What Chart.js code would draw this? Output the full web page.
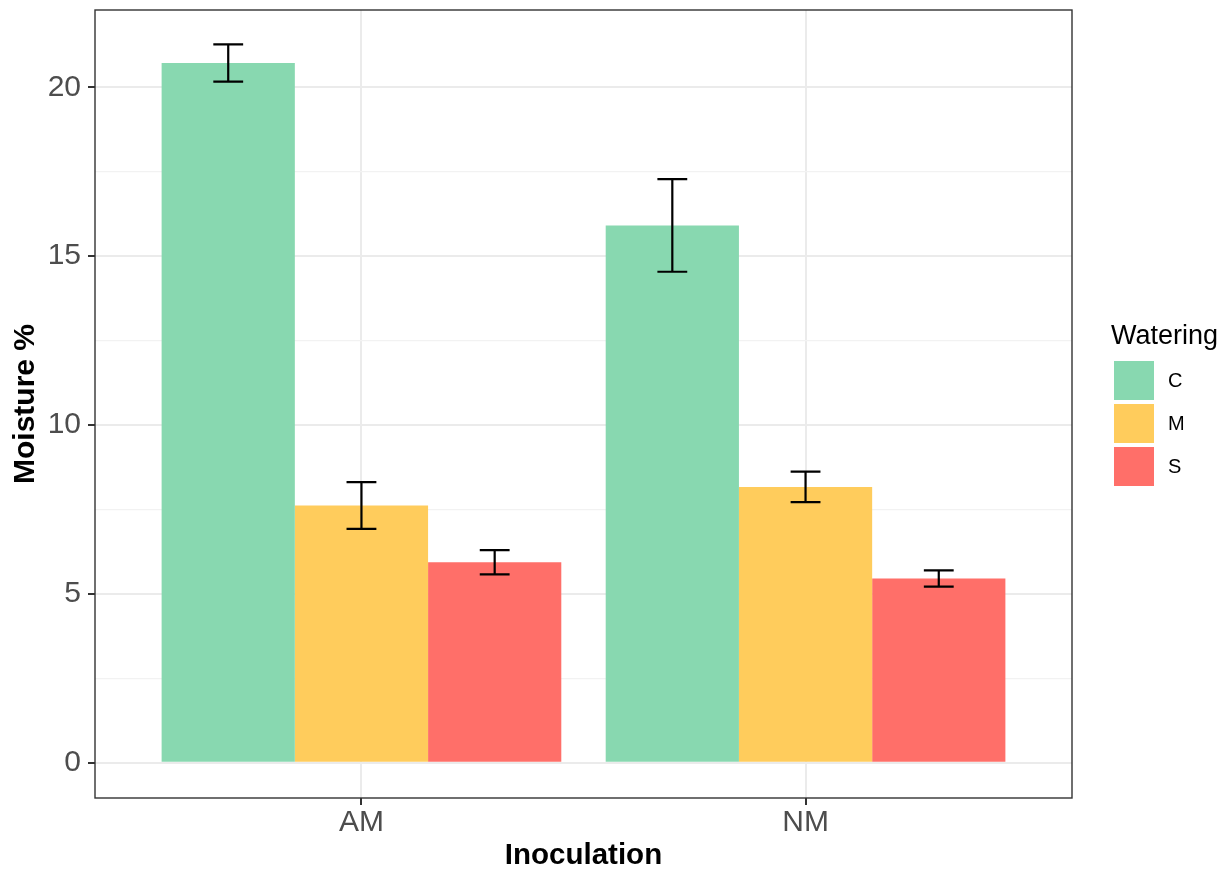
<!DOCTYPE html>
<html>
<head>
<meta charset="utf-8">
<script src="https://cdn.jsdelivr.net/npm/chart.js@4.4.1/dist/chart.umd.min.js"></script>
<style>
  html, body { margin: 0; padding: 0; background: #fff; }
  #wrap { position: relative; width: 1232px; height: 878px; }
  #legend { position: absolute; left: 0; top: 0; font-family: "Liberation Sans", Arial, sans-serif; color: #000; }
  #legend .ltitle { position: absolute; left: 1111px; top: 320px; font-size: 27px; line-height: 30px; white-space: nowrap; }
  #legend .key { position: absolute; left: 1114px; width: 40px; height: 39px; }
  #legend .lab { position: absolute; left: 1168px; font-size: 20px; line-height: 39px; }
</style>
</head>
<body>
<div id="wrap">
  <canvas id="chart" width="1232" height="878"></canvas>
  <div id="legend"></div>
</div>
<script>
// moisture data
var categories = ['AM', 'NM'];
var watering = ['C', 'M', 'S'];
var cMeans = [20.72, 15.91];
var mMeans = [7.62, 8.17];
var sMeans = [5.94, 5.46];
var cSe = [0.55, 1.37];
var mSe = [0.69, 0.45];
var sSe = [0.36, 0.24];
var colors = ['#88D8B0', '#FFCC5C', '#FF6F69'];
var yTicks = [0, 5, 10, 15, 20];
var yMinorTicks = [2.5, 7.5, 12.5, 17.5];

var fontFamily = '"Liberation Sans", Arial, sans-serif';

function toPoints(values) {
    return values.map(function(v, i) { return { x: i + 1, y: v }; });
}

var means = [cMeans, mMeans, sMeans];
var errors = [cSe, mSe, sSe];

var datasets = watering.map(function(name, i) {
    return {
        label: name,
        data: toPoints(means[i]),
        errors: errors[i],
        backgroundColor: colors[i],
        borderWidth: 0
    };
});

function isMajor(v) {
    return yTicks.indexOf(v) !== -1;
}

// error bars on top of the bars
var errorBars = {
    id: 'errorBars',
    afterDatasetsDraw: function(chart) {
        var ctx = chart.ctx;
        var y = chart.scales.y;
        ctx.save();
        ctx.strokeStyle = '#000';
        ctx.lineWidth = 2.2;
        chart.data.datasets.forEach(function(ds, i) {
            var meta = chart.getDatasetMeta(i);
            meta.data.forEach(function(bar, j) {
                var m = ds.data[j].y;
                var e = ds.errors[j];
                var top = y.getPixelForValue(m + e);
                var bot = y.getPixelForValue(m - e);
                var half = bar.width * 0.112;
                ctx.beginPath();
                ctx.moveTo(bar.x, top);
                ctx.lineTo(bar.x, bot);
                ctx.moveTo(bar.x - half, top);
                ctx.lineTo(bar.x + half, top);
                ctx.moveTo(bar.x - half, bot);
                ctx.lineTo(bar.x + half, bot);
                ctx.stroke();
            });
        });
        ctx.restore();
    }
};

// panel border like theme_bw
var panelBorder = {
    id: 'panelBorder',
    afterDraw: function(chart) {
        var a = chart.chartArea;
        var ctx = chart.ctx;
        ctx.save();
        ctx.strokeStyle = '#333333';
        ctx.lineWidth = 1.4;
        ctx.strokeRect(a.left, a.top, a.right - a.left, a.bottom - a.top);
        ctx.restore();
    }
};

var ctx = document.getElementById('chart').getContext('2d');
var chart = new Chart(ctx, {
    type: 'bar',
    data: { datasets: datasets },
    options: {
        responsive: false,
        animation: false,
        devicePixelRatio: 1,
        layout: { padding: { top: 10, right: 160, left: 0, bottom: 0 } },
        datasets: { bar: { categoryPercentage: 0.9, barPercentage: 1.0 } },
        plugins: { legend: { display: false }, tooltip: { enabled: false } },
        scales: {
            x: {
                type: 'linear',
                min: 0.4,
                max: 2.6,
                offset: false,
                afterBuildTicks: function(s) {
                    s.ticks = categories.map(function(c, i) { return { value: i + 1 }; });
                },
                afterFit: function(s) { s.height = 80; },
                border: { display: false },
                grid: { offset: false, color: '#EBEBEB', lineWidth: 2, tickLength: 7, tickColor: '#333333', tickWidth: 2 },
                ticks: {
                    autoSkip: false,
                    maxRotation: 0,
                    padding: 0,
                    color: '#4D4D4D',
                    font: { family: fontFamily, size: 30 },
                    callback: function(v) { return categories[v - 1]; }
                },
                title: {
                    display: true,
                    text: 'Inoculation',
                    color: '#000',
                    padding: { top: 0, bottom: 4 },
                    font: { family: fontFamily, size: 29.5, weight: 'bold' }
                }
            },
            y: {
                min: -1.04,
                max: 22.29,
                afterBuildTicks: function(s) {
                    s.ticks = yTicks.concat(yMinorTicks).sort(function(a, b) { return a - b; })
                        .map(function(v) { return { value: v }; });
                },
                afterFit: function(s) {
                    s.width = 95;
                    s.paddingTop = 0;
                    s.paddingBottom = 0;
                },
                border: { display: false },
                grid: {
                    color: function(c) { return isMajor(c.tick.value) ? '#EBEBEB' : '#F2F2F2'; },
                    lineWidth: function(c) { return isMajor(c.tick.value) ? 2 : 1.2; },
                    tickLength: 7,
                    tickColor: function(c) { return isMajor(c.tick.value) ? '#333333' : 'rgba(0,0,0,0)'; },
                    tickWidth: 2
                },
                ticks: {
                    padding: 7,
                    color: '#4D4D4D',
                    font: { family: fontFamily, size: 30 },
                    callback: function(v) { return isMajor(v) ? String(v) : ''; }
                },
                title: {
                    display: true,
                    text: 'Moisture %',
                    color: '#000',
                    padding: { top: 8, bottom: 0 },
                    font: { family: fontFamily, size: 30, weight: 'bold' }
                }
            }
        }
    },
    plugins: [errorBars, panelBorder]
});

// legend built from the datasets
var legend = document.getElementById('legend');
var html = '<div class="ltitle">Watering</div>';
watering.forEach(function(name, i) {
    var top = 361 + i * 43;
    html += '<div class="key" style="top:' + top + 'px;background:' + colors[i] + '"></div>';
    html += '<div class="lab" style="top:' + top + 'px">' + name + '</div>';
});
legend.innerHTML = html;
</script>
</body>
</html>
